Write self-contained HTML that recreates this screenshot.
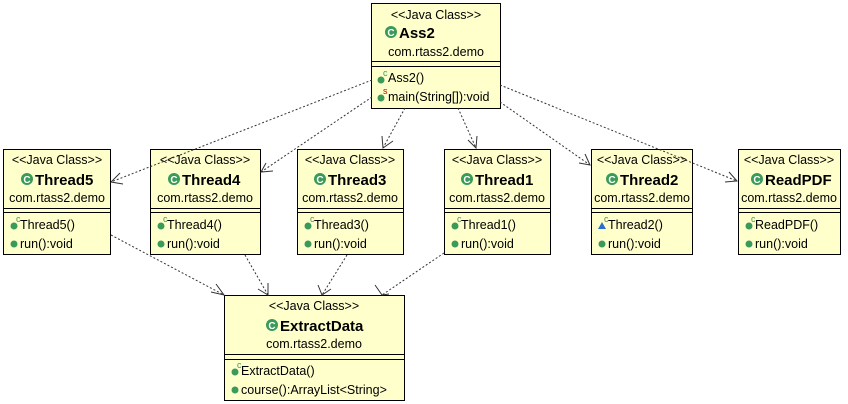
<!DOCTYPE html>
<html><head><style>
body{margin:0;background:#fff}
svg{display:block}
text{font-family:"Liberation Sans",sans-serif;fill:#000}
.s{font-size:12.5px}
.b{font-size:15px;font-weight:bold}
</style></head><body>
<svg width="848" height="404" xmlns="http://www.w3.org/2000/svg">
<defs>
<g id="ic"><circle r="6" fill="#3a9a5a"/><text x="0" y="4" text-anchor="middle" style="font-size:10px;font-weight:bold;fill:#fff">C</text></g>
</defs>
<g fill="#ffffcc" stroke="#000" stroke-width="1">
<rect x="371.5" y="3.5" width="129" height="105"/>
<rect x="3.5" y="149.5" width="107" height="105"/>
<rect x="150.5" y="149.5" width="110" height="105"/>
<rect x="297.5" y="149.5" width="106" height="105"/>
<rect x="444.5" y="149.5" width="106" height="105"/>
<rect x="591.5" y="149.5" width="101" height="105"/>
<rect x="738.5" y="149.5" width="102" height="105"/>
<rect x="224.5" y="295.5" width="180" height="105"/>
</g>
<g stroke="#000">
<line x1="371" y1="61.5" x2="501" y2="61.5"/><line x1="371" y1="66.5" x2="501" y2="66.5"/>
<line x1="3" y1="208.5" x2="111" y2="208.5"/><line x1="3" y1="212.5" x2="111" y2="212.5"/>
<line x1="150" y1="208.5" x2="261" y2="208.5"/><line x1="150" y1="212.5" x2="261" y2="212.5"/>
<line x1="297" y1="208.5" x2="404" y2="208.5"/><line x1="297" y1="212.5" x2="404" y2="212.5"/>
<line x1="444" y1="208.5" x2="551" y2="208.5"/><line x1="444" y1="212.5" x2="551" y2="212.5"/>
<line x1="591" y1="208.5" x2="693" y2="208.5"/><line x1="591" y1="212.5" x2="693" y2="212.5"/>
<line x1="738" y1="208.5" x2="841" y2="208.5"/><line x1="738" y1="212.5" x2="841" y2="212.5"/>
<line x1="224" y1="354.5" x2="405" y2="354.5"/><line x1="224" y1="359.5" x2="405" y2="359.5"/>
</g>
<!-- Ass2 -->
<text class="s" x="436" y="19" text-anchor="middle">&lt;&lt;Java Class&gt;&gt;</text>
<use href="#ic" x="391" y="32"/><text class="b" x="399" y="38">Ass2</text>
<text class="s" x="436" y="56" text-anchor="middle">com.rtass2.demo</text>
<circle cx="381" cy="80" r="3.5" fill="#3a9a5a"/><text x="383" y="76" style="font-size:9px;fill:#3a9a5a">c</text>
<text class="s" x="388" y="82">Ass2()</text>
<circle cx="381" cy="98" r="3.5" fill="#3a9a5a"/><text x="383" y="94" style="font-size:9px;fill:#c00">s</text>
<text class="s" x="388" y="101">main(String[]):void</text>
<!-- threads -->
<g>
<text class="s" x="57" y="164" text-anchor="middle">&lt;&lt;Java Class&gt;&gt;</text>
<use href="#ic" x="27" y="179"/><text class="b" x="35" y="185">Thread5</text>
<text class="s" x="57" y="202" text-anchor="middle">com.rtass2.demo</text>
<circle cx="14" cy="226" r="3.5" fill="#3a9a5a"/><text x="16" y="222" style="font-size:9px;fill:#3a9a5a">c</text>
<text class="s" x="20" y="229">Thread5()</text>
<circle cx="14" cy="244" r="3.5" fill="#3a9a5a"/><text class="s" x="20" y="248">run():void</text>
</g>
<g>
<text class="s" x="205" y="164" text-anchor="middle">&lt;&lt;Java Class&gt;&gt;</text>
<use href="#ic" x="174" y="179"/><text class="b" x="182" y="185">Thread4</text>
<text class="s" x="205" y="202" text-anchor="middle">com.rtass2.demo</text>
<circle cx="161" cy="226" r="3.5" fill="#3a9a5a"/><text x="163" y="222" style="font-size:9px;fill:#3a9a5a">c</text>
<text class="s" x="167" y="229">Thread4()</text>
<circle cx="161" cy="244" r="3.5" fill="#3a9a5a"/><text class="s" x="167" y="248">run():void</text>
</g>
<g>
<text class="s" x="350" y="164" text-anchor="middle">&lt;&lt;Java Class&gt;&gt;</text>
<use href="#ic" x="320" y="179"/><text class="b" x="328" y="185">Thread3</text>
<text class="s" x="350" y="202" text-anchor="middle">com.rtass2.demo</text>
<circle cx="308" cy="226" r="3.5" fill="#3a9a5a"/><text x="310" y="222" style="font-size:9px;fill:#3a9a5a">c</text>
<text class="s" x="314" y="229">Thread3()</text>
<circle cx="308" cy="244" r="3.5" fill="#3a9a5a"/><text class="s" x="314" y="248">run():void</text>
</g>
<g>
<text class="s" x="497" y="164" text-anchor="middle">&lt;&lt;Java Class&gt;&gt;</text>
<use href="#ic" x="467" y="179"/><text class="b" x="475" y="185">Thread1</text>
<text class="s" x="497" y="202" text-anchor="middle">com.rtass2.demo</text>
<circle cx="455" cy="226" r="3.5" fill="#3a9a5a"/><text x="457" y="222" style="font-size:9px;fill:#3a9a5a">c</text>
<text class="s" x="461" y="229">Thread1()</text>
<circle cx="455" cy="244" r="3.5" fill="#3a9a5a"/><text class="s" x="461" y="248">run():void</text>
</g>
<g>
<text class="s" x="642" y="164" text-anchor="middle">&lt;&lt;Java Class&gt;&gt;</text>
<use href="#ic" x="612" y="179"/><text class="b" x="620" y="185">Thread2</text>
<text class="s" x="642" y="202" text-anchor="middle">com.rtass2.demo</text>
<polygon points="602,222 606,229 598,229" fill="#2a6ed0"/><text x="604" y="222" style="font-size:9px;fill:#3a9a5a">c</text>
<text class="s" x="608" y="229">Thread2()</text>
<circle cx="602" cy="244" r="3.5" fill="#3a9a5a"/><text class="s" x="608" y="248">run():void</text>
</g>
<g>
<text class="s" x="789" y="164" text-anchor="middle">&lt;&lt;Java Class&gt;&gt;</text>
<use href="#ic" x="757" y="179"/><text class="b" x="765" y="185">ReadPDF</text>
<text class="s" x="789" y="202" text-anchor="middle">com.rtass2.demo</text>
<circle cx="749" cy="226" r="3.5" fill="#3a9a5a"/><text x="751" y="222" style="font-size:9px;fill:#3a9a5a">c</text>
<text class="s" x="755" y="229">ReadPDF()</text>
<circle cx="749" cy="244" r="3.5" fill="#3a9a5a"/><text class="s" x="755" y="248">run():void</text>
</g>
<!-- ExtractData -->
<text class="s" x="314" y="310" text-anchor="middle">&lt;&lt;Java Class&gt;&gt;</text>
<use href="#ic" x="272" y="325"/><text class="b" x="280" y="331">ExtractData</text>
<text class="s" x="314" y="348" text-anchor="middle">com.rtass2.demo</text>
<circle cx="235" cy="372" r="3.5" fill="#3a9a5a"/><text x="237" y="368" style="font-size:9px;fill:#3a9a5a">c</text>
<text class="s" x="241" y="375">ExtractData()</text>
<circle cx="235" cy="390" r="3.5" fill="#3a9a5a"/><text class="s" x="241" y="394">course():ArrayList&lt;String&gt;</text>
<!-- connectors on top -->
<g stroke="#333" stroke-width="1" stroke-dasharray="2,2" fill="none">
<line x1="372" y1="80" x2="111" y2="182"/>
<line x1="372" y1="97" x2="261" y2="172"/>
<line x1="405" y1="108" x2="383" y2="148"/>
<line x1="458" y1="108" x2="476" y2="148"/>
<line x1="500" y1="102" x2="590" y2="165"/>
<line x1="500" y1="85" x2="737" y2="181"/>
<line x1="111" y1="235" x2="224" y2="295"/>
<line x1="245" y1="255" x2="268" y2="295"/>
<line x1="347" y1="255" x2="322" y2="295"/>
<line x1="444" y1="253" x2="382" y2="295"/>
</g>
<g stroke="#333" stroke-width="1" fill="none">
<polyline points="120,173 111,182 123,184"/>
<polyline points="266,163 261,172 273,171"/>
<polyline points="382,136 383,148 393,141"/>
<polyline points="468,140 476,148 477,136"/>
<polyline points="579,163 590,165 585,154"/>
<polyline points="725,182 737,181 729,172"/>
<polyline points="211,292 224,295 216,284"/>
<polyline points="258,289 268,295 268,283"/>
<polyline points="318,285 322,295 331,289"/>
<polyline points="375,285 382,295 389,294"/>
</g>
</svg>
</body></html>
